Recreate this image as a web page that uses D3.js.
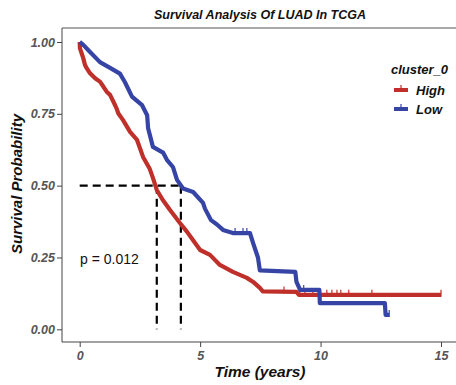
<!DOCTYPE html>
<html>
<head>
<meta charset="utf-8">
<script src="https://cdn.jsdelivr.net/npm/d3@7"></script>
<style>
  body { margin: 0; background: #fff; }
  svg { display: block; }
  text { font-family: "Liberation Sans", Arial, sans-serif; }
</style>
</head>
<body>
<svg id="vis" width="456" height="385"></svg>
<script>
// survival curve vertices (years, survival)
var highTimes = [0, 0.01, 0.08, 0.15, 0.22, 0.29, 0.43, 0.64, 0.84, 0.98, 1.12, 1.26, 1.4, 1.53, 1.6, 1.8, 2.09, 2.38, 2.63, 2.9, 3.04, 3.2, 3.45, 3.75, 4.16, 4.45, 4.7, 5.0, 5.41, 5.82, 6.36, 6.94, 7.2, 7.48, 7.6, 9.0, 9.1, 15.0];
var highSurv  = [1.0, 0.978, 0.961, 0.943, 0.92, 0.909, 0.891, 0.874, 0.862, 0.845, 0.827, 0.816, 0.792, 0.769, 0.752, 0.728, 0.687, 0.659, 0.60, 0.56, 0.527, 0.485, 0.45, 0.415, 0.37, 0.34, 0.311, 0.276, 0.259, 0.224, 0.20, 0.179, 0.165, 0.144, 0.132, 0.13, 0.12, 0.12];
var lowTimes  = [0, 0.15, 0.43, 0.84, 1.26, 1.67, 1.88, 2.17, 2.59, 2.8, 2.84, 3.04, 3.46, 3.62, 3.87, 4.04, 4.29, 4.71, 5.12, 5.2, 5.45, 5.7, 5.95, 6.36, 7.07, 7.2, 7.4, 7.48, 8.95, 9.0, 9.15, 9.95, 9.97, 12.67, 12.7, 12.85];
var lowSurv   = [1.0, 0.99, 0.965, 0.93, 0.91, 0.89, 0.86, 0.81, 0.78, 0.745, 0.70, 0.635, 0.615, 0.59, 0.565, 0.52, 0.49, 0.478, 0.44, 0.42, 0.38, 0.365, 0.346, 0.335, 0.335, 0.30, 0.25, 0.205, 0.20, 0.165, 0.137, 0.137, 0.091, 0.091, 0.05, 0.05];

// censor marks (years)
var highCensor = [8.48, 9.14, 9.35, 9.68, 9.93, 10.26, 10.47, 10.68, 10.84, 11.17, 12.13, 15.0];
var lowCensor  = [6.45, 6.78, 6.94, 9.3, 12.85];

var medianHigh = 3.2;
var medianLow = 4.2;

var xTicks = [0, 5, 10, 15];
var yTicks = [0, 0.25, 0.5, 0.75, 1.0];
var groups = ["High", "Low"];
var colors = ["#C0302A", "#3645A5"];

var _vis = d3.select("#vis");

var xScale = d3.scaleLinear().domain([0, 15]).range([79.7, 441]);
var yScale = d3.scaleLinear().domain([0, 1]).range([329.3, 42]);

// panel frame
_vis.append("line").attr("x1", 62).attr("x2", 456).attr("y1", 28).attr("y2", 28)
    .attr("stroke", "#555").attr("stroke-width", 1);

// axes
var yAxis = _vis.append("g")
    .attr("transform", "translate(62,0)")
    .call(d3.axisLeft(yScale).tickValues(yTicks).tickFormat(d3.format(".2f")).tickSize(5).tickSizeOuter(0));
var xAxis = _vis.append("g")
    .attr("transform", "translate(0,342)")
    .call(d3.axisBottom(xScale).tickValues(xTicks).tickSize(5).tickSizeOuter(0));

// stretch axis lines across the panel
yAxis.select(".domain").attr("d", "M0,28V342");
xAxis.select(".domain").attr("d", "M62,0H456");

[xAxis, yAxis].forEach(function(ax) {
    ax.selectAll(".domain, .tick line").attr("stroke", "#444").attr("stroke-width", 1);
    ax.selectAll(".tick text")
        .attr("fill", "#555")
        .style("font-size", "12.5px")
        .style("font-weight", "bold")
        .style("font-style", "italic")
        .style("font-family", "'Liberation Sans', Arial, sans-serif");
});
yAxis.selectAll(".tick text").attr("x", -7);
xAxis.selectAll(".tick text").attr("y", 9);

// median dashed lines
var dash = "8,5";
_vis.append("line")
    .attr("x1", xScale(0)).attr("x2", xScale(medianLow))
    .attr("y1", yScale(0.5)).attr("y2", yScale(0.5))
    .attr("stroke", "#000").attr("stroke-width", 2.2).attr("stroke-dasharray", dash);
[medianHigh, medianLow].forEach(function(m) {
    _vis.append("line")
        .attr("x1", xScale(m)).attr("x2", xScale(m))
        .attr("y1", yScale(0.5)).attr("y2", yScale(0))
        .attr("stroke", "#000").attr("stroke-width", 2.2).attr("stroke-dasharray", dash);
});

// survival curves
var line = d3.line()
    .x(function(d) { return xScale(d[0]); })
    .y(function(d) { return yScale(d[1]); });

function survAt(times, surv, t) {
    var s = surv[0];
    for (var i = 0; i < times.length; i++) {
        if (times[i] <= t) s = surv[i];
    }
    return s;
}

var series = [
    { times: highTimes, surv: highSurv, censor: highCensor, color: colors[0] },
    { times: lowTimes, surv: lowSurv, censor: lowCensor, color: colors[1] }
];

series.forEach(function(sr) {
    var pts = sr.times.map(function(t, i) { return [t, sr.surv[i]]; });
    _vis.append("path")
        .datum(pts)
        .attr("fill", "none")
        .attr("stroke", sr.color)
        .attr("stroke-width", 4.2)
        .attr("stroke-linejoin", "round")
        .attr("d", line);

    _vis.selectAll(null)
        .data(sr.censor)
        .enter()
        .append("line")
        .attr("x1", function(d) { return xScale(d); })
        .attr("x2", function(d) { return xScale(d); })
        .attr("y1", function(d) { return yScale(survAt(sr.times, sr.surv, d)) - 5; })
        .attr("y2", function(d) { return yScale(survAt(sr.times, sr.surv, d)) + 2; })
        .attr("stroke", sr.color)
        .attr("stroke-width", 1.2);
});

// p-value
_vis.append("text")
    .attr("x", 80).attr("y", 264)
    .style("font-size", "14px")
    .attr("fill", "#111")
    .text("p = 0.012");

// title
_vis.append("text")
    .attr("x", 260).attr("y", 19)
    .attr("text-anchor", "middle")
    .style("font-size", "12.5px")
    .style("font-weight", "bold")
    .style("font-style", "italic")
    .attr("fill", "#111")
    .text("Survival Analysis Of LUAD In TCGA");

// axis titles
_vis.append("text")
    .attr("x", 260).attr("y", 377)
    .attr("text-anchor", "middle")
    .style("font-size", "15.5px")
    .style("font-weight", "bold")
    .style("font-style", "italic")
    .attr("fill", "#111")
    .text("Time (years)");

_vis.append("text")
    .attr("transform", "translate(22,184) rotate(-90)")
    .attr("text-anchor", "middle")
    .style("font-size", "15px")
    .style("font-weight", "bold")
    .style("font-style", "italic")
    .attr("fill", "#111")
    .text("Survival Probability");

// legend
var legend = _vis.append("g").attr("transform", "translate(391,74)");
legend.append("text")
    .attr("x", 0).attr("y", 0)
    .style("font-size", "13px")
    .style("font-weight", "bold")
    .style("font-style", "italic")
    .attr("fill", "#111")
    .text("cluster_0");

groups.forEach(function(g, i) {
    var yy = 16 + i * 19;
    legend.append("line")
        .attr("x1", 3).attr("x2", 17).attr("y1", yy).attr("y2", yy)
        .attr("stroke", colors[i]).attr("stroke-width", 4);
    legend.append("line")
        .attr("x1", 10).attr("x2", 10).attr("y1", yy - 5).attr("y2", yy)
        .attr("stroke", colors[i]).attr("stroke-width", 1.2);
    legend.append("text")
        .attr("x", 25).attr("y", yy + 5)
        .style("font-size", "13px")
        .style("font-weight", "bold")
        .style("font-style", "italic")
        .attr("fill", "#111")
        .text(g);
});
</script>
</body>
</html>
